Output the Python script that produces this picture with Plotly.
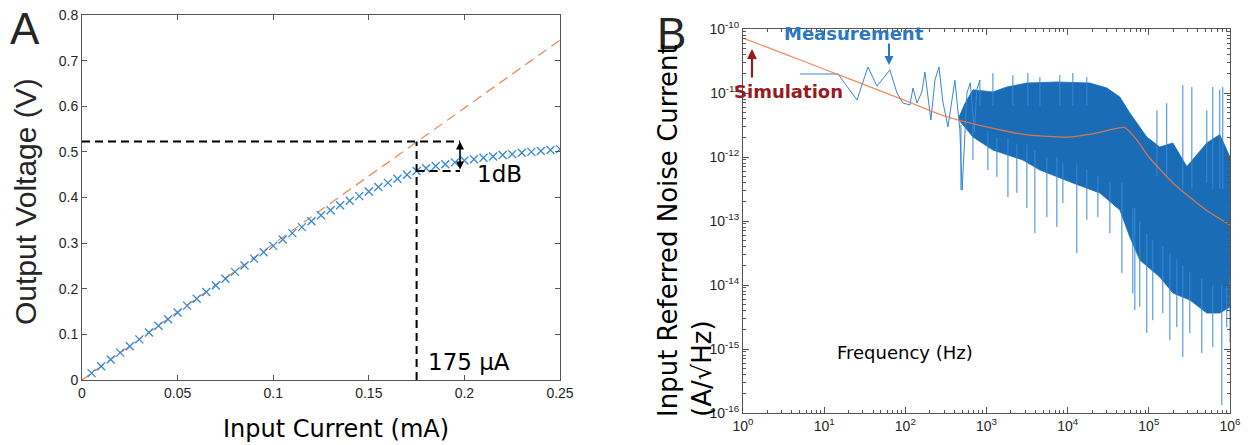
import numpy as np
import plotly.graph_objects as go

W, H = 1248, 445

# ---------------- Panel A data ----------------
input_current_mA = [0.005, 0.010, 0.015, 0.020, 0.025, 0.030, 0.035, 0.040, 0.045, 0.050,
                    0.055, 0.060, 0.065, 0.070, 0.075, 0.080, 0.085, 0.090, 0.095, 0.100,
                    0.105, 0.110, 0.115, 0.120, 0.125, 0.130, 0.135, 0.140, 0.145, 0.150,
                    0.155, 0.160, 0.165, 0.170, 0.175, 0.180, 0.185, 0.190, 0.195, 0.200,
                    0.205, 0.210, 0.215, 0.220, 0.225, 0.230, 0.235, 0.240, 0.245, 0.250]
output_voltage_V = [0.015, 0.030, 0.045, 0.060, 0.074, 0.089, 0.104, 0.119, 0.133, 0.148,
                    0.163, 0.178, 0.193, 0.207, 0.222, 0.237, 0.251, 0.266, 0.280, 0.294,
                    0.308, 0.322, 0.335, 0.348, 0.361, 0.372, 0.383, 0.393, 0.403, 0.413,
                    0.423, 0.432, 0.441, 0.450, 0.458, 0.464, 0.469, 0.473, 0.477, 0.481,
                    0.484, 0.487, 0.490, 0.493, 0.495, 0.498, 0.500, 0.502, 0.504, 0.506]
ideal_current_mA = [0.0, 0.25]
ideal_voltage_V = [0.0, 0.745]

p1dB_current = 0.175
p1dB_ideal_V = 0.523
p1dB_actual_V = 0.458
arrow_current = 0.1977

# ---------------- Panel B data (log10 values) ----------------
sim_freq = [1, 3, 10, 30, 100, 300, 1000, 3000, 10000, 20000, 40000, 50000,
            70000, 100000, 200000, 500000, 1000000]
sim_noise = [7.2e-11, 4.25e-11, 2.35e-11, 1.38e-11, 7.6e-12, 4.4e-12, 2.95e-12, 2.24e-12,
             2.04e-12, 2.3e-12, 2.8e-12, 2.9e-12, 1.9e-12, 1.0e-12, 3.9e-13, 1.5e-13, 8.7e-14]

meas_sparse_logf = [0.702, 1.170, 1.404, 1.539, 1.650, 1.810, 1.897, 1.970, 2.057, 2.094,
                    2.143, 2.204, 2.241, 2.315, 2.365, 2.414, 2.463, 2.525, 2.611, 2.672,
                    2.700, 2.759, 2.800, 2.850, 2.880, 2.919]
meas_sparse_logv = [-10.703, -10.703, -11.109, -10.594, -10.891, -10.641, -11.000, -11.156,
                    -11.188, -10.922, -11.156, -10.984, -10.672, -11.422, -10.797, -10.594,
                    -11.140, -11.530, -10.800, -11.580, -12.520, -11.000, -10.840, -11.600,
                    -10.950, -10.797]

band_upper_logf = [2.660, 2.740, 2.833, 3.079, 3.251, 3.498, 3.867, 4.273, 4.483, 4.643, 4.766,
                   4.975, 5.135, 5.296, 5.468, 5.714, 5.874, 6.000]
band_upper_logv = [-11.380, -11.150, -10.950, -10.984, -10.906, -10.844, -10.828, -10.844,
                   -10.922, -11.063, -11.313, -11.688, -11.844, -11.781, -12.150, -11.781,
                   -11.650, -12.000]
band_lower_logf = [2.660, 2.740, 2.833, 3.079, 3.448, 3.658, 4.064, 4.397, 4.643, 4.766, 4.889,
                   5.135, 5.296, 5.505, 5.714, 5.874, 6.000]
band_lower_logv = [-11.420, -11.550, -11.688, -11.891, -12.047, -12.203, -12.406, -12.563,
                   -12.828, -13.250, -13.609, -13.875, -14.125, -14.234, -14.438, -14.438,
                   -14.344]

spike_logf = [2.685, 2.833, 3.017, 3.128, 3.264, 3.374, 3.498, 3.596, 3.744, 3.867,
              3.941, 4.113, 4.236, 4.372, 4.520, 4.668, 4.803, 4.828, 4.889, 4.975,
              5.049, 5.172, 5.259, 5.345, 5.419, 5.505, 5.653, 5.788, 5.899, 5.960, 6.000,
              2.919, 3.079, 3.325, 3.510, 3.658, 3.904, 4.064, 4.236, 5.100, 5.220,
              5.419, 5.530, 5.714, 5.788, 5.874, 5.911]
spike_base_logv = [-11.5, -11.5, -11.6, -11.7, -11.7, -11.8, -11.8, -11.9, -12.0, -12.0,
                   -12.1, -12.1, -12.2, -12.3, -12.4, -12.4, -12.8, -12.8, -13.0, -13.2,
                   -13.3, -13.4, -13.5, -13.6, -13.7, -13.8, -13.9, -14.0, -14.0, -14.0, -13.9,
                   -11.2, -11.2, -11.2, -11.2, -11.2, -11.2, -11.2, -11.2, -12.3, -12.3,
                   -12.5, -12.5, -12.4, -12.5, -12.5, -12.5]
spike_tip_logv = [-12.516, -12.047, -12.203, -12.310, -12.625, -12.560, -12.797, -13.188,
                  -12.940, -13.094, -12.720, -13.500, -12.980, -12.940, -13.190, -13.813,
                  -14.130, -14.391, -14.340, -14.750, -14.550, -14.440, -14.859, -14.660,
                  -15.125, -14.750, -15.063, -14.970, -15.875, -14.660, -14.906,
                  -10.797, -10.690, -10.720, -10.688, -10.750, -10.720, -10.688, -10.750,
                  -11.270, -11.160, -10.875, -10.906, -11.270, -10.906, -10.950, -10.906]

# tick labels
a_xticks = [0, 0.05, 0.1, 0.15, 0.2, 0.25]
a_xticklabels = ["0", "0.05", "0.1", "0.15", "0.2", "0.25"]
a_yticks = [0, 0.1, 0.2, 0.3, 0.4, 0.5, 0.6, 0.7, 0.8]
a_yticklabels = ["0", "0.1", "0.2", "0.3", "0.4", "0.5", "0.6", "0.7", "0.8"]
b_xexp = [0, 1, 2, 3, 4, 5, 6]
b_yexp = [-16, -15, -14, -13, -12, -11, -10]

# ---------------- styling constants ----------------
AX = "#555555"
TXT = "#262626"
BLUE = "#3489d4"
BAND = "#1b6cb7"
ORANGE = "#ef7a45"
DRED = "#981c1f"
MBLUE = "#2878c6"


def px(x):
    return x / W


def py(y):
    return 1 - y / H


fig = go.Figure()

# Panel A
fig.add_trace(go.Scatter(x=ideal_current_mA, y=ideal_voltage_V, mode="lines",
                         line=dict(color=ORANGE, width=1.1, dash="10px,6px"),
                         xaxis="x", yaxis="y", hoverinfo="skip"))
fig.add_trace(go.Scatter(x=input_current_mA, y=output_voltage_V, mode="markers",
                         marker=dict(symbol="x-thin", size=8, color=BLUE,
                                     line=dict(color=BLUE, width=1.3)),
                         xaxis="x", yaxis="y"))
fig.add_trace(go.Scatter(x=[0, arrow_current], y=[p1dB_ideal_V, p1dB_ideal_V], mode="lines",
                         line=dict(color="black", width=2, dash="8px,5px"),
                         xaxis="x", yaxis="y", hoverinfo="skip"))
fig.add_trace(go.Scatter(x=[p1dB_current, p1dB_current], y=[0, p1dB_ideal_V], mode="lines",
                         line=dict(color="black", width=2, dash="8px,5px"),
                         xaxis="x", yaxis="y", hoverinfo="skip"))
fig.add_trace(go.Scatter(x=[p1dB_current, arrow_current], y=[p1dB_actual_V, p1dB_actual_V],
                         mode="lines", line=dict(color="black", width=2, dash="8px,5px"),
                         xaxis="x", yaxis="y", hoverinfo="skip"))

# Panel B
bx = list(10 ** np.array(band_upper_logf)) + list(10 ** np.array(band_lower_logf))[::-1]
by = list(10 ** np.array(band_upper_logv)) + list(10 ** np.array(band_lower_logv))[::-1]
fig.add_trace(go.Scatter(x=bx, y=by, mode="lines", fill="toself", fillcolor=BAND,
                         line=dict(color=BAND, width=0.8), xaxis="x2", yaxis="y2",
                         hoverinfo="skip"))
sx, sy = [], []
for f, b, t in zip(spike_logf, spike_base_logv, spike_tip_logv):
    sx += [10 ** f, 10 ** f, None]
    sy += [10 ** b, 10 ** t, None]
fig.add_trace(go.Scatter(x=sx, y=sy, mode="lines", line=dict(color=BLUE, width=1),
                         xaxis="x2", yaxis="y2", hoverinfo="skip"))
fig.add_trace(go.Scatter(x=10 ** np.array(meas_sparse_logf), y=10 ** np.array(meas_sparse_logv),
                         mode="lines", line=dict(color=BLUE, width=1),
                         xaxis="x2", yaxis="y2"))
fig.add_trace(go.Scatter(x=sim_freq, y=sim_noise, mode="lines",
                         line=dict(color=ORANGE, width=1.3, shape="spline", smoothing=0.6),
                         opacity=0.85, xaxis="x2", yaxis="y2"))

tickfont = dict(family="Liberation Sans, Arial, sans-serif", size=14, color=TXT)
common = dict(showgrid=False, zeroline=False, showline=True, linecolor=AX, linewidth=1,
              mirror="ticks", ticks="inside", tickcolor=AX, tickfont=tickfont,
              automargin=False)

minor_x = [m * 10.0 ** k for k in range(0, 6) for m in range(2, 10)]
minor_y = [m * 10.0 ** k for k in range(-16, -10) for m in range(2, 10)]

fig.update_layout(
    width=W, height=H, autosize=False,
    margin=dict(l=0, r=0, t=0, b=0),
    paper_bgcolor="white", plot_bgcolor="white",
    showlegend=False,
    xaxis=dict(domain=[px(82), px(560)], range=[0, 0.25], tickmode="array",
               tickvals=a_xticks, ticktext=a_xticklabels, ticklen=5, anchor="y", **common),
    yaxis=dict(domain=[py(380), py(15)], range=[0, 0.8], tickmode="array",
               tickvals=a_yticks, ticktext=a_yticklabels, ticklen=5, anchor="x", **common),
    xaxis2=dict(domain=[px(743), px(1230)], type="log", range=[0, 6], tickmode="array",
                tickvals=[10.0 ** e for e in b_xexp],
                ticktext=["10<sup>%d</sup>" % e for e in b_xexp], ticklen=6, anchor="y2",
                minor=dict(tickmode="array", tickvals=minor_x, ticks="inside", ticklen=3,
                           tickcolor=AX),
                **common),
    yaxis2=dict(domain=[py(413), py(29)], type="log", range=[-16, -10], tickmode="array",
                tickvals=[10.0 ** e for e in b_yexp],
                ticktext=["10<sup>%d</sup>" % e for e in b_yexp], ticklen=6, anchor="x2",
                minor=dict(tickmode="array", tickvals=minor_y, ticks="inside", ticklen=3,
                           tickcolor=AX),
                **common),
)

dj = "DejaVu Sans, Verdana, sans-serif"
C = dict(xanchor="center", yanchor="middle")
ann = []
ann.append(dict(text="Output Voltage (V)", x=px(26), y=py(202), xref="paper", yref="paper",
                textangle=-90, showarrow=False, **C,
                font=dict(family="Liberation Sans, Arial, sans-serif", size=30, color=TXT)))
ann.append(dict(text="Input Current (mA)", x=px(336), y=py(429), xref="paper", yref="paper",
                showarrow=False, **C, font=dict(family=dj, size=24, color="black")))
ann.append(dict(text="A", x=px(25), y=py(29), xref="paper", yref="paper", showarrow=False, **C,
                font=dict(family="Liberation Sans, Arial, sans-serif", size=44, color=TXT)))
ann.append(dict(text="B", x=px(671), y=py(33), xref="paper", yref="paper", showarrow=False, **C,
                font=dict(family="Liberation Sans, Arial, sans-serif", size=44, color=TXT)))
ann.append(dict(text="1dB", x=0.2186, y=0.4515, xref="x", yref="y", showarrow=False, **C,
                font=dict(family=dj, size=23, color="black")))
ann.append(dict(text="175 µA", x=0.2024, y=0.0395, xref="x", yref="y", showarrow=False, **C,
                font=dict(family=dj, size=23, color="black")))
ann.append(dict(text="", x=arrow_current, y=p1dB_ideal_V, ax=arrow_current, ay=p1dB_actual_V,
                xref="x", yref="y", axref="x", ayref="y", showarrow=True,
                arrowhead=2, arrowside="end+start", arrowwidth=1.6, arrowsize=1,
                arrowcolor="black"))
ann.append(dict(text="Input Referred Noise Current<br>(A/√Hz)", x=px(685), y=py(231),
                xref="paper", yref="paper", textangle=-90, showarrow=False, align="left", **C,
                font=dict(family=dj, size=26, color="black")))
ann.append(dict(text="Frequency (Hz)", x=px(905), y=py(352), xref="paper", yref="paper",
                showarrow=False, **C, font=dict(family=dj, size=18, color="black")))
ann.append(dict(text="<b>Measurement</b>", x=px(854), y=py(34), xref="paper", yref="paper",
                showarrow=False, **C, font=dict(family=dj, size=18, color=MBLUE)))
ann.append(dict(text="<b>Simulation</b>", x=px(788), y=py(91), xref="paper", yref="paper",
                showarrow=False, **C, font=dict(family=dj, size=18, color=DRED)))
ann.append(dict(text="", x=px(752), y=py(49), xref="paper", yref="paper", ax=0, ay=30,
                showarrow=True, arrowhead=2, arrowwidth=2.2, arrowsize=0.9, arrowcolor=DRED))
ann.append(dict(text="", x=px(889), y=py(65), xref="paper", yref="paper", ax=0, ay=-23,
                showarrow=True, arrowhead=2, arrowwidth=2, arrowsize=0.9, arrowcolor=MBLUE))
fig.update_layout(annotations=ann)

fig.write_html("out.html")
